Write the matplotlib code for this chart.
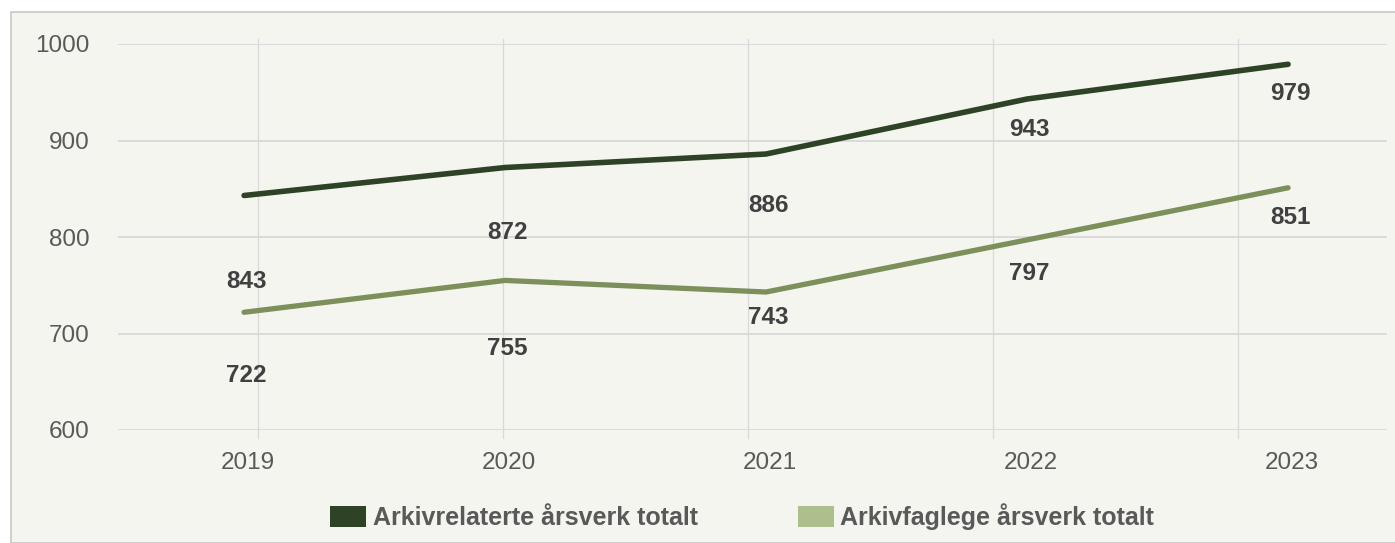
"""
Line chart of archive-related full-time equivalents (årsverk), 2019-2023.
"""

import matplotlib
matplotlib.use("Agg")
import matplotlib.pyplot as plt
from matplotlib.patches import Patch, Rectangle
import numpy as np

years = ["2019", "2020", "2021", "2022", "2023"]
arkivrelaterte = [843, 872, 886, 943, 979]
arkivfaglege = [722, 755, 743, 797, 851]
series_names = ["Arkivrelaterte årsverk totalt", "Arkivfaglege årsverk totalt"]
y_ticks = [600, 700, 800, 900, 1000]

# Where the value labels sit (in data units), as placed in the original
label_y_relaterte = [754, 805, 833, 911, 949]
label_y_faglege = [656, 684, 717, 762, 820]

DARK = "#2E4226"
MID = "#7D8F5B"
LIGHT = "#ADBF8D"
BG = "#F3F5EE"
GRID = "#D9D9D9"
TICK_COL = "#595959"
LABEL_COL = "#404040"

plt.rcParams["font.family"] = ["Liberation Sans", "DejaVu Sans"]

W, H = 1395, 543
fig = plt.figure(figsize=(W / 100, H / 100), dpi=100)
fig.patch.set_facecolor("white")
# Chart area box (border shows on top and left only)
fig.patches.append(Rectangle(
	(11 / W, 0), (W - 11) / W + 0.01, (H - 12) / H,
	transform=fig.transFigure, facecolor=BG, edgecolor="#C8C8C8",
	linewidth=1.2, zorder=-5
))

ax = fig.add_axes([118 / W, 113 / H, (1387 - 118) / W, (430 - 44) / H])
ax.set_zorder(2)
ax.set_facecolor("none")
for s in ax.spines.values():
	s.set_visible(False)

x = np.arange(len(years))
ax.set_xlim(-0.483, 4.379)
ax.set_ylim(600, 1000)

# Horizontal gridlines
for yv in y_ticks:
	ax.axhline(yv, color=GRID, linewidth=1.3, zorder=1)
# Vertical gridlines (spaced a bit tighter than the categories, as in the original)
grid_x = 0.054 + 0.9387 * np.arange(len(years))
for gx in grid_x:
	ax.axvline(gx, ymin=-0.021, ymax=1.013, color=GRID, linewidth=0.9,
		clip_on=False, zorder=1)

ax.plot(x, arkivrelaterte, color=DARK, linewidth=4.0,
	solid_capstyle="round", solid_joinstyle="round", zorder=3)
ax.plot(x, arkivfaglege, color=MID, linewidth=3.8,
	solid_capstyle="round", solid_joinstyle="round", zorder=3)

for xi, v, ly in zip(x, arkivrelaterte, label_y_relaterte):
	ax.text(xi + 0.01, ly, f"{v}", ha="center", va="center", fontsize=17.5,
		fontweight="bold", color=LABEL_COL)
for xi, v, ly in zip(x, arkivfaglege, label_y_faglege):
	ax.text(xi + 0.01, ly, f"{v}", ha="center", va="center", fontsize=17.5,
		fontweight="bold", color=LABEL_COL)

ax.set_yticks(y_ticks)
ax.set_yticklabels([str(t) for t in y_ticks])
ax.set_xticks(x + 0.015)
ax.set_xticklabels(years)
ax.tick_params(axis="both", length=0, labelsize=17.5, labelcolor=TICK_COL)
ax.tick_params(axis="y", pad=20.5)
ax.tick_params(axis="x", pad=16)

handles = [Patch(facecolor=DARK), Patch(facecolor=LIGHT)]
leg = fig.legend(
	handles, series_names, loc="center",
	bbox_to_anchor=(742 / W, (H - 517) / H), ncol=2, frameon=False,
	handlelength=1.45, handleheight=0.9, handletextpad=0.25,
	columnspacing=4.0, borderpad=0,
	prop={"family": "Liberation Sans", "weight": "bold", "size": 18}
)
for t in leg.get_texts():
	t.set_color(TICK_COL)

fig.savefig("out.png", dpi=100, facecolor=fig.get_facecolor())
